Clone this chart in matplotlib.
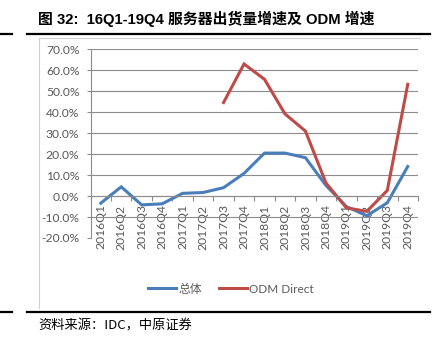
import numpy as np
import matplotlib
matplotlib.use("Agg")
import matplotlib.pyplot as plt
from matplotlib.lines import Line2D
from matplotlib.ticker import FuncFormatter, FixedLocator

quarters = ["2016Q1", "2016Q2", "2016Q3", "2016Q4",
            "2017Q1", "2017Q2", "2017Q3", "2017Q4",
            "2018Q1", "2018Q2", "2018Q3", "2018Q4",
            "2019Q1", "2019Q2", "2019Q3", "2019Q4"]
total = [-3.4, 4.4, -4.2, -3.7, 1.3, 1.7, 4.0, 10.8,
         20.5, 20.5, 18.3, 5.1, -5.0, -9.4, -3.2, 14.1]
odm = [np.nan, np.nan, np.nan, np.nan, np.nan, np.nan, 44.6, 63.0,
       55.7, 39.2, 31.0, 6.3, -5.6, -7.3, 2.7, 53.3]

W, H = 443, 341
fig = plt.figure(figsize=(W / 100, H / 100), dpi=100)

def fx(px):
    return px / W

def fy(py):
    return 1 - py / H

lat = ["Lato", "Noto Sans CJK SC"]
grey_txt = "#595959"
grid_c = "#8c8c8c"

ax = fig.add_axes([fx(90.5), fy(238), fx(418) - fx(90.5), fy(49.3) - fy(238)])
x = np.arange(len(quarters))
ax.plot(x, total, color="#4A7EBB", lw=2.2, label="总体", solid_joinstyle="miter")
ax.plot(x, odm, color="#BE4B48", lw=2.2, label="ODM Direct", solid_joinstyle="miter")

ax.set_xlim(-0.5, len(quarters) - 0.5)
ax.set_ylim(-20, 70)
ax.set_yticks(np.arange(-20, 71, 10))
ax.yaxis.set_major_formatter(FuncFormatter(lambda v, p: "%.1f%%" % v))
ax.grid(axis="y", color=grid_c, lw=0.8)
ax.set_axisbelow(True)

ax.spines["top"].set_visible(False)
ax.spines["right"].set_visible(False)
ax.spines["left"].set_color(grid_c)
ax.spines["left"].set_linewidth(0.8)
ax.spines["bottom"].set_position(("data", 0))
ax.spines["bottom"].set_color(grid_c)
ax.spines["bottom"].set_linewidth(0.8)

ax.set_xticks(x)
ax.set_xticklabels(quarters, rotation=90, va="top", ha="center")
ax.xaxis.set_minor_locator(FixedLocator(np.arange(-0.5, len(quarters), 1)))
ax.tick_params(axis="x", which="major", length=0, pad=6, labelsize=8.7,
               labelcolor=grey_txt)
ax.tick_params(axis="x", which="minor", length=3.5, color=grid_c, width=0.8)
ax.tick_params(axis="y", length=3, color=grid_c, width=0.8, labelsize=8.7,
               labelcolor=grey_txt, pad=5)
for t in ax.get_xticklabels() + ax.get_yticklabels():
    t.set_family(lat)

leg = fig.legend(loc="center", bbox_to_anchor=(fx(231), fy(289)), ncol=2,
                 frameon=False, handlelength=2.4, handletextpad=0.2,
                 columnspacing=1.4, prop={"family": lat, "size": 8.5})
for t in leg.get_texts():
    t.set_color(grey_txt)

# chart frame (left + top)
fig.add_artist(Line2D([fx(39), fx(39)], [fy(37.5), fy(308)], color="#d0d0d0", lw=0.8))
fig.add_artist(Line2D([fx(39), fx(420)], [fy(37.5), fy(37.5)], color="#d0d0d0", lw=0.8))

# header / footer rules
for yy in (34, 312):
    fig.add_artist(Line2D([fx(0), fx(12)], [fy(yy), fy(yy)], color="black", lw=1.6))
    fig.add_artist(Line2D([fx(27), fx(430)], [fy(yy), fy(yy)], color="black", lw=1.6))

fig.text(fx(38), fy(19), "图 32:  16Q1-19Q4 服务器出货量增速及 ODM 增速",
         family=["Liberation Sans", "Noto Sans CJK SC"], weight="bold",
         fontsize=10.7, va="center", ha="left")
fig.text(fx(38), fy(326), "资料来源：IDC，中原证券",
         family=["Noto Sans CJK SC", "DejaVu Sans"], fontsize=9.5,
         va="center", ha="left")

fig.savefig("out.png", dpi=100)
